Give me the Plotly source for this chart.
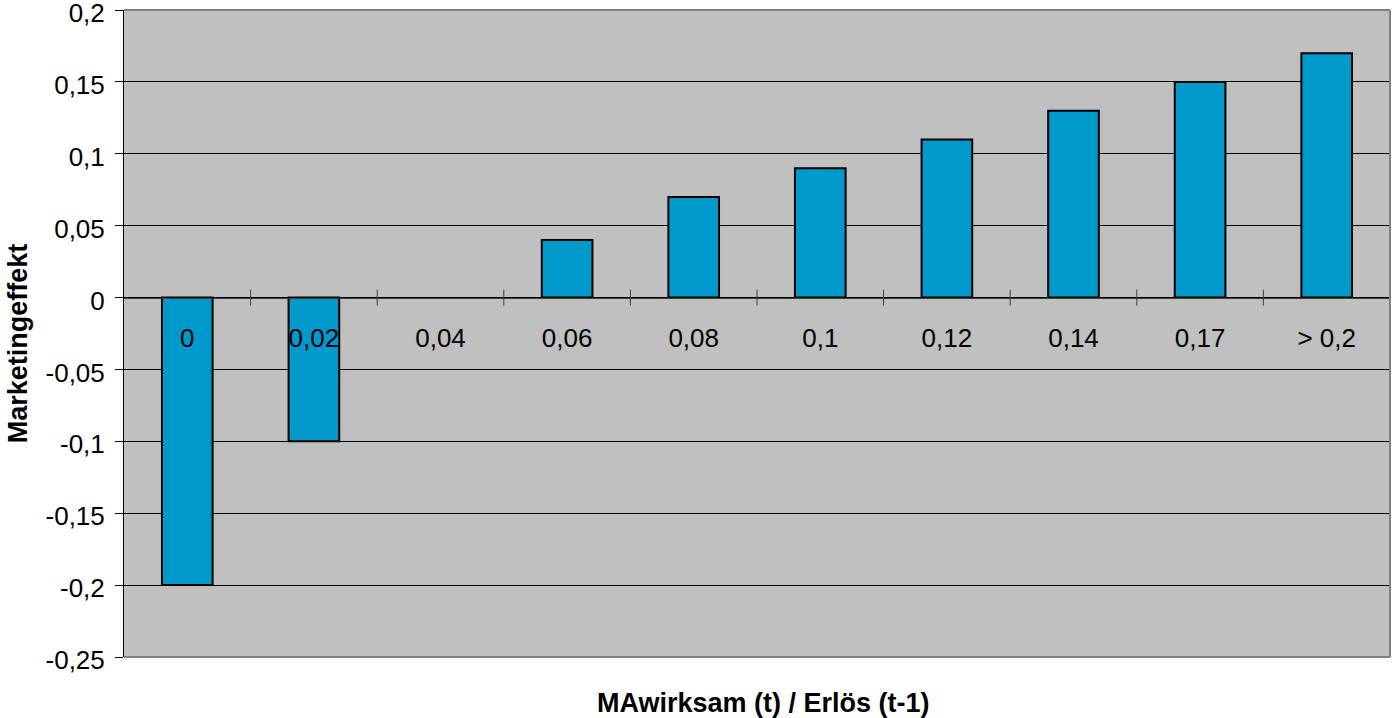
import plotly.graph_objects as go

# Marketing effect by ratio of effective marketing spend to prior-period revenue
categories = ["0", "0,02", "0,04", "0,06", "0,08", "0,1", "0,12", "0,14", "0,17", "> 0,2"]
effects = [-0.2, -0.1, 0.0, 0.04, 0.07, 0.09, 0.11, 0.13, 0.15, 0.17]

y_ticks = [0.2, 0.15, 0.1, 0.05, 0, -0.05, -0.1, -0.15, -0.2, -0.25]
y_tick_text = ["0,2", "0,15", "0,1", "0,05", "0", "-0,05", "-0,1", "-0,15", "-0,2", "-0,25"]

FONT = "Liberation Sans, Arial, sans-serif"
Y_MIN, Y_MAX = -0.25, 0.2
EPS = 1e-6

fig = go.Figure(
    go.Bar(
        x=list(range(len(categories))),
        y=effects,
        width=0.4,
        marker=dict(
            color="#0099CC",
            # no outline for empty (zero) bars
            line=dict(color="#000000", width=[0 if v == 0 else 2 for v in effects]),
        ),
        hoverinfo="x+y",
    )
)

# small tick marks straddling the zero line between categories
shapes = []
for i in range(1, len(categories)):
    shapes.append(dict(
        type="line", xref="x", yref="y", ysizemode="pixel", yanchor=0,
        x0=i - 0.5, x1=i - 0.5, y0=-8, y1=8,
        line=dict(color="#404040", width=1),
    ))
# plot frame: grey on top, right and bottom
shapes.append(dict(type="line", xref="paper", yref="paper", x0=0, x1=1, y0=1, y1=1,
                   line=dict(color="#808080", width=2)))
shapes.append(dict(type="line", xref="paper", yref="paper", x0=1, x1=1, y0=0, y1=1,
                   line=dict(color="#808080", width=2)))
shapes.append(dict(type="line", xref="paper", yref="paper", x0=0, x1=1, y0=0, y1=0,
                   line=dict(color="#808080", width=2)))

fig.update_layout(
    width=1392, height=718,
    margin=dict(l=124, r=2, t=10, b=61),
    paper_bgcolor="#FFFFFF",
    plot_bgcolor="#C0C0C0",
    showlegend=False,
    font=dict(family=FONT, size=26, color="#000000"),
    shapes=shapes,
    xaxis=dict(
        tickmode="array",
        tickvals=list(range(len(categories))),
        ticktext=categories,
        range=[-0.5, len(categories) - 0.5],
        anchor="free",
        position=(0 - Y_MIN) / (Y_MAX - Y_MIN),
        showline=True, linecolor="#404040", linewidth=1,
        ticks="", showgrid=False, zeroline=False,
        ticklabelstandoff=17,
        automargin=False,
        tickfont=dict(family=FONT, size=26),
    ),
    yaxis=dict(
        range=[Y_MIN - EPS, Y_MAX + EPS],
        tickmode="array",
        tickvals=y_ticks,
        ticktext=y_tick_text,
        showgrid=True, gridcolor="#000000", gridwidth=1,
        zeroline=False,
        showline=True, linecolor="#000000", linewidth=1,
        ticks="outside", ticklen=8, tickcolor="#000000",
        ticklabelstandoff=5,
        ticklabelshift=3,
        ticklabeloverflow="allow",
        automargin=False,
        tickfont=dict(family=FONT, size=26),
    ),
    annotations=[
        dict(text="<b>MAwirksam (t) / Erlös (t-1)</b>", xref="paper", yref="paper",
             x=0.5, y=0, xshift=6, yshift=-46, yanchor="middle", xanchor="center",
             showarrow=False, font=dict(family=FONT, size=27)),
        dict(text="<b>Marketingeffekt</b>", xref="paper", yref="paper",
             x=0, y=0.485, xshift=-106, xanchor="center", yanchor="middle", textangle=-90,
             showarrow=False, font=dict(family=FONT, size=27)),
    ],
)

fig.write_html("out.html")
